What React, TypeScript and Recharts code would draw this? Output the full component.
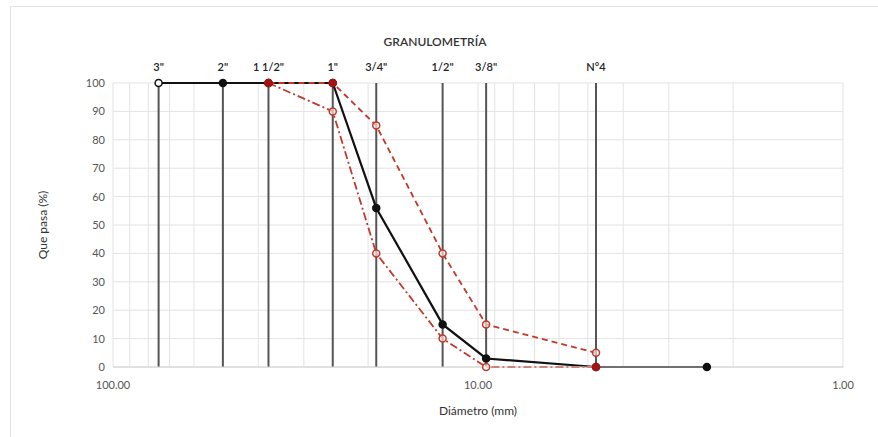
import React from 'react';
import {
	CartesianGrid,
	Label,
	Line,
	LineChart,
	ReferenceLine,
	XAxis,
	YAxis,
} from 'recharts';

// sieve openings (mm) and labels
const sieveSizes = [75, 50, 37.5, 25, 19, 12.5, 9.5, 4.75];
const sieveLabels = ['3"', '2"', '1 1/2"', '1"', '3/4"', '1/2"', '3/8"', 'N°4'];

// sample curve
const sampleSizes = [75, 50, 37.5, 25, 19, 12.5, 9.5, 4.75, 2.36];
const samplePassing = [100, 100, 100, 100, 56, 15, 3, 0, 0];

// spec limits
const limitSizes = [37.5, 25, 19, 12.5, 9.5, 4.75];
const upperLimit = [100, 100, 85, 40, 15, 5];
const lowerLimit = [100, 90, 40, 10, 0, 0];

const xTicks = [100, 90, 80, 70, 60, 50, 40, 30, 20, 10, 9, 8, 7, 6, 5, 4, 3, 2, 1];
const yTicks = [0, 10, 20, 30, 40, 50, 60, 70, 80, 90, 100];

const sample = sampleSizes.map((d, i) => ({ d, p: samplePassing[i] }));
const upper = limitSizes.map((d, i) => ({ d, p: upperLimit[i] }));
const lower = limitSizes.map((d, i) => ({ d, p: lowerLimit[i] }));

const RED = '#c0392b';
const FONT = 'Lato, "Open Sans", sans-serif';

const SampleDot = (props: any) => {
	const { cx, cy, index } = props;
	if (cx == null || cy == null) return null;
	return (
		<circle
			key={`s-${index}`}
			cx={cx}
			cy={cy}
			r={3.5}
			fill={index === 0 ? '#fff' : '#111'}
			stroke="#111"
			strokeWidth={1.5}
		/>
	);
};

const LimitDot = (props: any) => {
	const { cx, cy, index, payload } = props;
	if (cx == null || cy == null) return null;
	// markers sitting on top of the sample curve look filled in the original
	const filled = payload && payload.p === 100 || (payload && payload.d === 4.75 && payload.p === 0);
	return (
		<circle
			key={`l-${index}`}
			cx={cx}
			cy={cy}
			r={3.5}
			fill={filled ? '#a31515' : 'rgba(255,255,255,0.6)'}
			stroke={filled ? '#a31515' : RED}
			strokeWidth={1.5}
		/>
	);
};

const App = () => {
	return (
		<div style={{ position: 'absolute', left: 0, top: 0, width: 878, height: 437, background: '#fff', fontFamily: FONT }}>
			<div
				style={{
					position: 'absolute',
					left: 10,
					top: 6,
					width: 880,
					height: 440,
					border: '1px solid #e2e2e2',
				}}
			/>
			<div
				style={{
					position: 'absolute',
					left: 335,
					top: 34,
					width: 200,
					textAlign: 'center',
					fontSize: 12,
					fontWeight: 600,
					color: '#333',
				}}
			>
				GRANULOMETRÍA
			</div>
			<LineChart
				width={878}
				height={437}
				margin={{ top: 83, right: 35, bottom: 22, left: 73 }}
				style={{ position: 'absolute', left: 0, top: 0 }}
			>
				<CartesianGrid stroke="#e3e3e3" strokeWidth={1} />
				<XAxis
					dataKey="d"
					type="number"
					scale="log"
					domain={[1, 100]}
					reversed
					allowDataOverflow
					ticks={xTicks}
					interval={0}
					tickLine={false}
					axisLine={{ stroke: '#d0d0d0' }}
					height={48}
					tick={{ fontSize: 11, fill: '#555', fontFamily: FONT, dy: 6 }}
					tickFormatter={(v: number) => (v === 100 || v === 10 || v === 1 ? v.toFixed(2) : '')}
				>
					<Label value="Diámetro (mm)" position="insideBottom" offset={0} style={{ fontSize: 12, fill: '#333', fontFamily: FONT }} />
				</XAxis>
				<YAxis
					type="number"
					domain={[0, 100]}
					ticks={yTicks}
					interval={0}
					tickLine={false}
					axisLine={false}
					width={40}
					tick={{ fontSize: 11, fill: '#555', fontFamily: FONT }}
				>
					<Label
						value="Que pasa (%)"
						angle={-90}
						position="left"
						offset={30}
						style={{ fontSize: 12, fill: '#333', textAnchor: 'middle', fontFamily: FONT }}
					/>
				</YAxis>
				{sieveSizes.map((s, i) => (
					<ReferenceLine
						key={i}
						x={s}
						stroke="#555"
						strokeWidth={2}
						label={{ value: sieveLabels[i], position: 'top', offset: 12, fontSize: 11, fontWeight: 600, fill: '#222', fontFamily: FONT }}
					/>
				))}
				<Line
					data={sample}
					dataKey="p"
					type="linear"
					stroke="#111"
					strokeWidth={2.2}
					dot={<SampleDot />}
					isAnimationActive={false}
				/>
				<Line
					data={lower}
					dataKey="p"
					type="linear"
					stroke={RED}
					strokeWidth={1.8}
					strokeDasharray="8 3 2 3"
					dot={<LimitDot />}
					isAnimationActive={false}
				/>
				<Line
					data={upper}
					dataKey="p"
					type="linear"
					stroke={RED}
					strokeWidth={1.8}
					strokeDasharray="6 4"
					dot={<LimitDot />}
					isAnimationActive={false}
				/>
			</LineChart>
		</div>
	);
};

export default App;
